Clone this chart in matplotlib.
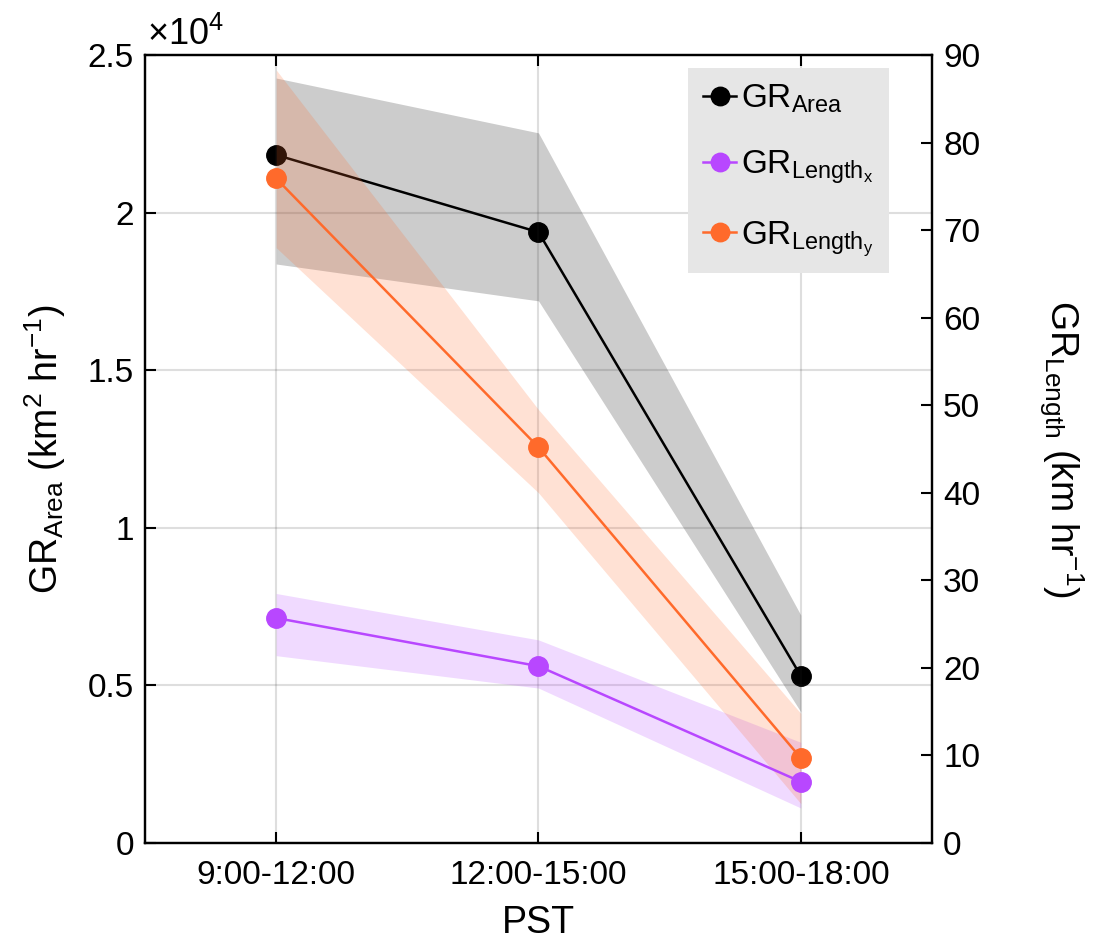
import numpy as np
import matplotlib
matplotlib.use('Agg')
import matplotlib.pyplot as plt
from matplotlib.ticker import FuncFormatter

plt.rcParams['font.family'] = ['Liberation Sans', 'DejaVu Sans']
plt.rcParams['mathtext.fontset'] = 'custom'
plt.rcParams['mathtext.rm'] = 'Liberation Sans'
plt.rcParams['mathtext.it'] = 'Liberation Sans'
plt.rcParams['mathtext.default'] = 'regular'

# data
periods = ['9:00-12:00', '12:00-15:00', '15:00-18:00']
gr_area = [21830, 19380, 5300]
gr_area_lo = [18370, 17200, 4160]
gr_area_hi = [24270, 22530, 7230]
gr_len_x = [25.7, 20.2, 7.0]
gr_len_x_lo = [21.4, 17.7, 4.0]
gr_len_x_hi = [28.5, 23.2, 11.5]
gr_len_y = [75.9, 45.2, 9.7]
gr_len_y_lo = [68.0, 40.0, 4.5]
gr_len_y_hi = [88.3, 49.5, 14.8]

c_area = '#000000'
c_x = '#B847FF'
c_y = '#FF6A2B'

x = np.arange(1, len(periods) + 1)

fig = plt.figure(figsize=(11.01, 9.47), dpi=100)
ax1 = fig.add_axes([0.1317, 0.1098, 0.7148, 0.8321])
ax2 = ax1.twinx()

# left axis: area growth rate
ax1.fill_between(x, gr_area_lo, gr_area_hi, color=c_area, alpha=0.2, lw=0)
l1, = ax1.plot(x, gr_area, '-o', color=c_area, lw=1.8, ms=14, label=r'GR$_{Area}$')

# right axis: length growth rates
ax2.fill_between(x, gr_len_x_lo, gr_len_x_hi, color=c_x, alpha=0.2, lw=0)
ax2.fill_between(x, gr_len_y_lo, gr_len_y_hi, color=c_y, alpha=0.2, lw=0)
l2, = ax2.plot(x, gr_len_x, '-o', color=c_x, lw=1.8, ms=14, label=r'GR$_{Length_{x}}$')
l3, = ax2.plot(x, gr_len_y, '-o', color=c_y, lw=1.8, ms=14, label=r'GR$_{Length_{y}}$')

ax1.set_xlim(0.5, 3.5)
ax1.set_ylim(0, 25000)
ax1.set_yticks(np.arange(0, 25001, 5000))
ax2.set_ylim(0, 90)
ax2.set_yticks(np.arange(0, 91, 10))
ax1.set_xticks(x)
ax1.set_xticklabels(periods)

# matlab style exponent label
ax1.yaxis.set_major_formatter(FuncFormatter(lambda v, p: '%g' % (v / 1e4)))
ax1.text(0.003, 1.003, r'$\times$10$^{4}$', transform=ax1.transAxes,
         fontsize=26, ha='left', va='bottom')

ax1.grid(True, color='0.15', alpha=0.15, lw=1.5)
ax1.set_axisbelow(False)

for ax in (ax1, ax2):
    for s in ax.spines.values():
        s.set_linewidth(1.6)
    ax.tick_params(direction='in', length=8, width=1.5, labelsize=24)
ax1.tick_params(axis='x', top=True, pad=12)
ax1.tick_params(axis='y', pad=8)
ax2.tick_params(axis='y', pad=8)

ax1.set_xlabel('PST', fontsize=27, labelpad=10)
ax1.set_ylabel(r'GR$_{Area}$ (km$^{2}$ hr$^{-1}$)', fontsize=27, labelpad=14)
ax2.set_ylabel(r'GR$_{Length}$ (km hr$^{-1}$)', fontsize=27, rotation=270, labelpad=76)

leg = ax2.legend(handles=[l1, l2, l3], loc='upper left', bbox_to_anchor=(0.69, 0.984),
                 borderaxespad=0, fontsize=24, frameon=True, fancybox=False,
                 facecolor='0.9', edgecolor='none', framealpha=1,
                 handlelength=1.0, handletextpad=0.15, labelspacing=1.0,
                 borderpad=0.45, markerscale=0.95)

fig.savefig('out.png', dpi=100)
